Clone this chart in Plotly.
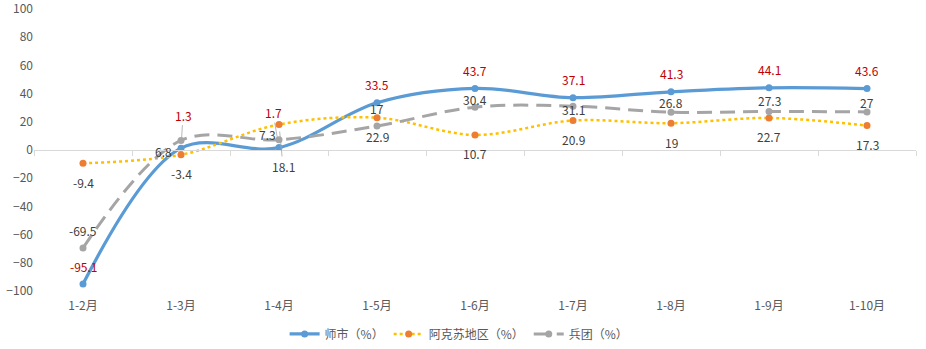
import plotly.graph_objects as go

months = ['1-2月', '1-3月', '1-4月', '1-5月', '1-6月', '1-7月', '1-8月', '1-9月', '1-10月']
shishi = [-95.1, 1.3, 1.7, 33.5, 43.7, 37.1, 41.3, 44.1, 43.6]
aksu = [-9.4, -3.4, 18.1, 22.9, 10.7, 20.9, 19, 22.7, 17.3]
bingtuan = [-69.5, 6.8, 7.3, 17, 30.4, 31.1, 26.8, 27.3, 27]
names = ['师市（%）', '阿克苏地区（%）', '兵团（%）']

FONT = 'Noto Sans CJK SC, sans-serif'
fig = go.Figure()

fig.add_trace(go.Scatter(x=months, y=shishi, name=names[0], mode='lines+markers',
                         line=dict(color='#5B9BD5', width=3.25, shape='spline', smoothing=1),
                         marker=dict(color='#5B9BD5', size=7)))
fig.add_trace(go.Scatter(x=months, y=aksu, name=names[1], mode='lines+markers',
                         line=dict(color='#FFC000', width=2.5, dash='dot', shape='spline', smoothing=1),
                         marker=dict(color='#ED7D31', size=7)))
fig.add_trace(go.Scatter(x=months, y=bingtuan, name=names[2], mode='lines+markers',
                         line=dict(color='#A5A5A5', width=3, dash='15px,8px', shape='spline', smoothing=1),
                         marker=dict(color='#A5A5A5', size=7)))
# helper trace for the zero axis (ticks between categories)
fig.add_trace(go.Scatter(x=months, y=[None] * len(months), xaxis='x2', showlegend=False,
                         hoverinfo='skip', mode='lines'))

# label offsets (pixels: dx, dy up) and leader flags
blue_off = [(0, 18)] * 9
blue_off[1] = (2, 33)
blue_off[2] = (-6, 35)
orange_off = [(0, -19)] * 9
orange_off[2] = (4, -42)
gray_off = [(0, 18), (-18, -11), (-12, 5), (0, 18), (0, 8), (0, -3), (0, 10), (0, 11), (0, 9)]
leaders = {('b', 1), ('b', 2), ('o', 2)}

def add_labels(vals, offs, color, key):
    for i, (m, v) in enumerate(zip(months, vals)):
        dx, dy = offs[i]
        txt = f'{v:g}'
        if (key, i) in leaders:
            fig.add_annotation(x=m, y=v, text=txt, showarrow=True, ax=dx, ay=-dy,
                               arrowhead=0, arrowwidth=0.8, arrowcolor='#A6A6A6', standoff=7,
                               font=dict(family=FONT, size=12, color=color))
        else:
            fig.add_annotation(x=m, y=v, text=txt, showarrow=False, xshift=dx, yshift=dy,
                               font=dict(family=FONT, size=12, color=color))

add_labels(shishi, blue_off, '#C00000', 'b')
add_labels(aksu, orange_off, '#404040', 'o')
add_labels(bingtuan, gray_off, '#404040', 'g')

fig.update_layout(
    width=926, height=349,
    margin=dict(l=34, r=10, t=9, b=58, autoexpand=False),
    plot_bgcolor='white', paper_bgcolor='white',
    font=dict(family=FONT, size=12, color='#595959'),
    showlegend=True,
    legend=dict(orientation='h', x=0.482, xanchor='center', yref='container', y=0.043,
                yanchor='middle', font=dict(family=FONT, size=12, color='#595959'), itemwidth=30),
    xaxis=dict(type='category', categoryorder='array', categoryarray=months,
               range=[-0.5, len(months) - 0.5], showgrid=False, showline=False, zeroline=False,
               ticks='', ticklabelstandoff=6,
               tickfont=dict(family=FONT, size=12, color='#595959')),
    xaxis2=dict(type='category', categoryorder='array', categoryarray=months,
                range=[-0.5, len(months) - 0.5], overlaying='x', anchor='free', position=0.5,
                side='bottom', showgrid=False, showline=True, linecolor='#D9D9D9', linewidth=1,
                ticks='outside', tickson='boundaries', ticklen=5, tickcolor='#D9D9D9',
                showticklabels=False),
    yaxis=dict(range=[-100, 100], dtick=20, showgrid=False, zeroline=False, showline=False,
               ticklabeloverflow='allow',
               tickfont=dict(family=FONT, size=12, color='#595959')),
)

fig.write_html('out.html')
